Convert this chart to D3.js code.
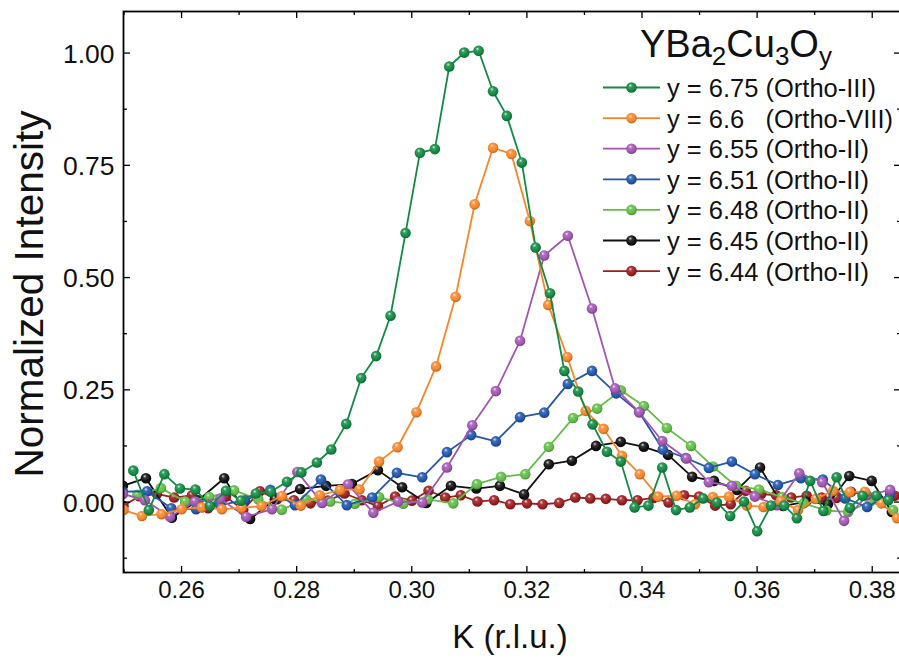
<!DOCTYPE html>
<html>
<head>
<meta charset="utf-8">
<script src="https://cdn.jsdelivr.net/npm/d3@7/dist/d3.min.js"></script>
<style>
  html, body { margin: 0; padding: 0; background: #fff; }
  svg { display: block; font-family: "Liberation Sans", Arial, sans-serif; }
</style>
</head>
<body>
<svg id="chart" width="899" height="658"></svg>
<script>
// K scans through the charge-order peak, normalized intensity, for several oxygen contents

const k675 = [0.2517,0.2544,0.2571,0.2598,0.2625,0.2650,0.2678,0.2704,0.2730,0.2756,0.2784,0.2809,0.2836,0.2861,0.2887,0.2913,0.2939,0.2964,0.2990,0.3015,0.3041,0.3066,0.3092,0.3117,0.3142,0.3166,0.3192,0.3216,0.3241,0.3266,0.3290,0.3315,0.3340,0.3364,0.3388,0.3412,0.3436,0.3460,0.3484,0.3507,0.3531,0.3554,0.3578,0.3601,0.3625,0.3648,0.3670,0.3693,0.3716,0.3739,0.3762,0.3784,0.3808,0.3829];
const i675 = [0.069,-0.019,0.061,0.029,0.027,-0.010,0.024,0.002,0.018,0.022,0.044,0.065,0.087,0.116,0.173,0.275,0.324,0.414,0.598,0.777,0.785,0.969,1.000,1.004,0.914,0.859,0.755,0.566,0.464,0.291,0.245,0.172,0.111,0.089,-0.013,-0.009,0.076,-0.019,-0.013,0.007,-0.002,-0.032,0.000,-0.066,-0.009,-0.009,-0.037,0.046,-0.021,0.054,-0.014,0.013,0.013,0.003];

const k660 = [0.2500,0.2532,0.2566,0.2601,0.2636,0.2671,0.2705,0.2740,0.2775,0.2808,0.2841,0.2876,0.2910,0.2944,0.2976,0.3009,0.3043,0.3077,0.3110,0.3142,0.3174,0.3206,0.3238,0.3271,0.3303,0.3334,0.3366,0.3397,0.3429,0.3461,0.3493,0.3524,0.3552,0.3583,0.3612,0.3642,0.3672,0.3703,0.3733,0.3762,0.3788,0.3817,0.3844];
const i660 = [-0.019,-0.032,-0.028,-0.017,-0.013,-0.017,-0.014,-0.010,0.012,-0.009,0.014,0.026,0.027,0.089,0.121,0.199,0.301,0.456,0.662,0.788,0.774,0.625,0.438,0.322,0.202,0.162,0.102,0.061,0.011,0.013,-0.006,0.010,0.011,-0.009,-0.012,0.001,-0.019,0.006,0.024,0.021,0.022,-0.004,-0.037];

const k655 = [0.2499,0.2537,0.2581,0.2624,0.2668,0.2713,0.2758,0.2802,0.2845,0.2890,0.2934,0.2977,0.3019,0.3062,0.3106,0.3147,0.3189,0.3231,0.3272,0.3314,0.3354,0.3396,0.3436,0.3478,0.3517,0.3557,0.3597,0.3635,0.3674,0.3714,0.3752,0.3792,0.3832];
const i655 = [0.017,0.003,-0.034,0.000,0.006,-0.034,-0.017,0.066,-0.003,0.038,-0.025,0.000,-0.002,0.076,0.170,0.246,0.358,0.548,0.592,0.430,0.252,0.199,0.135,0.096,0.043,0.035,0.011,-0.008,0.063,0.043,-0.043,0.014,0.026];

const k651 = [0.2499,0.2541,0.2583,0.2626,0.2668,0.2711,0.2755,0.2798,0.2843,0.2888,0.2932,0.2975,0.3019,0.3062,0.3104,0.3147,0.3189,0.3231,0.3272,0.3314,0.3356,0.3396,0.3437,0.3477,0.3517,0.3557,0.3597,0.3637,0.3677,0.3715,0.3754,0.3792,0.3832];
const i651 = [0.022,0.023,-0.015,-0.017,-0.008,0.003,0.026,-0.008,0.049,-0.008,0.009,0.064,0.054,0.110,0.148,0.134,0.188,0.198,0.262,0.291,0.241,0.199,0.116,0.097,0.075,0.089,0.061,0.037,0.052,0.049,0.007,-0.012,0.017];

const k648 = [0.2524,0.2565,0.2607,0.2649,0.2692,0.2734,0.2775,0.2817,0.2859,0.2902,0.2944,0.2986,0.3029,0.3073,0.3114,0.3156,0.3198,0.3239,0.3281,0.3323,0.3364,0.3404,0.3444,0.3486,0.3524,0.3564,0.3604,0.3644,0.3682,0.3721,0.3759,0.3797,0.3837];
const i648 = [0.015,0.030,0.000,0.010,0.025,0.005,-0.018,0.005,0.000,-0.005,0.010,-0.005,0.005,-0.004,0.039,0.055,0.061,0.122,0.186,0.207,0.248,0.213,0.164,0.124,0.078,0.035,0.027,0.010,-0.004,-0.020,-0.023,0.000,-0.019];

const k645 = [0.2499,0.2539,0.2584,0.2630,0.2675,0.2720,0.2763,0.2807,0.2852,0.2897,0.2942,0.2984,0.3026,0.3069,0.3113,0.3154,0.3196,0.3239,0.3279,0.3321,0.3364,0.3404,0.3446,0.3488,0.3526,0.3566,0.3606,0.3646,0.3686,0.3724,0.3761,0.3800,0.3835];
const i645 = [0.035,0.052,-0.036,0.003,0.052,-0.039,0.005,0.028,0.035,0.039,0.070,0.032,-0.003,0.035,0.029,0.035,0.016,0.083,0.091,0.124,0.133,0.122,0.104,0.055,0.046,0.026,0.076,-0.010,0.000,-0.006,0.057,0.046,-0.023];

const k644 = [0.2500,0.2527,0.2558,0.2588,0.2619,0.2647,0.2678,0.2708,0.2737,0.2767,0.2796,0.2825,0.2855,0.2884,0.2914,0.2942,0.2972,0.3001,0.3030,0.3059,0.3086,0.3115,0.3144,0.3172,0.3201,0.3228,0.3257,0.3285,0.3311,0.3338,0.3366,0.3393,0.3421,0.3447,0.3474,0.3500,0.3528,0.3555,0.3581,0.3608,0.3634,0.3660,0.3687,0.3713,0.3739,0.3764,0.3790,0.3816,0.3840];
const i644 = [-0.010,0.012,0.017,0.009,0.014,-0.015,0.011,-0.019,0.023,0.005,0.003,-0.004,0.002,0.018,0.003,-0.010,0.011,0.002,0.024,0.009,0.014,0.000,0.003,-0.006,-0.004,-0.006,-0.003,0.009,0.007,0.006,0.003,0.003,0.008,-0.002,0.014,0.011,-0.009,-0.006,0.024,0.017,0.014,0.009,0.013,0.009,0.008,0.022,0.014,0.000,0.013];

const seriesLabels = [
  "y = 6.75 (Ortho-III)",
  "y = 6.6   (Ortho-VIII)",
  "y = 6.55 (Ortho-II)",
  "y = 6.51 (Ortho-II)",
  "y = 6.48 (Ortho-II)",
  "y = 6.45 (Ortho-II)",
  "y = 6.44 (Ortho-II)"
];
const seriesColors = ["#138a43", "#f7862a", "#a256b3", "#2257ad", "#62bd48", "#111111", "#9c1e20"];
const seriesK = [k675, k660, k655, k651, k648, k645, k644];
const seriesI = [i675, i660, i655, i651, i648, i645, i644];

const xTicks = [0.26, 0.28, 0.30, 0.32, 0.34, 0.36, 0.38];
const xMinorTicks = [0.25, 0.27, 0.29, 0.31, 0.33, 0.35, 0.37];
const yTicks = [0.00, 0.25, 0.50, 0.75, 1.00];
const yMinorTicks = [-0.125, 0.125, 0.375, 0.625, 0.875];

const series = seriesLabels.map((label, s) => ({
  label, color: seriesColors[s],
  points: seriesK[s].map((k, j) => ({ k, v: seriesI[s][j] }))
}));

const svg = d3.select("#chart");
const plot = { left: 123.5, right: 900.5, top: 11.5, bottom: 572.5 };

const x = d3.scaleLinear().domain([0.25, 0.385]).range([plot.left, plot.right]);
const y = d3.scaleLinear().domain([-0.158, 1.0915]).range([plot.bottom, plot.top]);

// shaded ball markers
const defs = svg.append("defs");
series.forEach((s, idx) => {
  const c = d3.color(s.color);
  const g = defs.append("radialGradient")
    .attr("id", "ball" + idx).attr("cx", "0.45").attr("cy", "0.42").attr("r", "0.6")
    .attr("fx", "0.38").attr("fy", "0.3");
  g.append("stop").attr("offset", "0").attr("stop-color", d3.interpolateRgb(s.color, "#fff")(0.85));
  g.append("stop").attr("offset", "0.28").attr("stop-color", d3.interpolateRgb(s.color, "#fff")(0.15));
  g.append("stop").attr("offset", "0.7").attr("stop-color", s.color);
  g.append("stop").attr("offset", "1").attr("stop-color", c.darker(0.9).formatHex());
});

svg.append("clipPath").attr("id", "plotclip").append("rect")
  .attr("x", plot.left).attr("y", plot.top)
  .attr("width", plot.right - plot.left).attr("height", plot.bottom - plot.top);

const line = d3.line().x(d => x(d.k)).y(d => y(d.v));
const R = 5.3;

const dataLayer = svg.append("g").attr("clip-path", "url(#plotclip)");
// draw the 6.44 trace first so the strongest peaks sit on top
series.slice().reverse().forEach(s => {
  const idx = series.indexOf(s);
  const g = dataLayer.append("g");
  g.append("path").datum(s.points)
    .attr("d", line).attr("fill", "none")
    .attr("stroke", s.color).attr("stroke-width", 1.8).attr("stroke-linejoin", "round");
  g.selectAll("circle").data(s.points).join("circle")
    .attr("cx", d => x(d.k)).attr("cy", d => y(d.v)).attr("r", R)
    .attr("fill", `url(#ball${idx})`);
});

// axes with inward ticks, mirrored on top and right
const axisColor = "#000";
const tickFont = 24;

const bottomAxis = svg.append("g").attr("transform", `translate(0,${plot.bottom})`)
  .call(d3.axisBottom(x).tickValues(xTicks).tickSizeInner(-6.5).tickSizeOuter(0).tickFormat(d3.format(".2f")));
bottomAxis.selectAll(".tick text").attr("y", 25).attr("dy", 0).attr("font-size", tickFont)
  .attr("font-family", "'Liberation Sans', Arial, sans-serif").attr("fill", "#111");
svg.append("g").attr("transform", `translate(0,${plot.bottom})`)
  .call(d3.axisBottom(x).tickValues(xMinorTicks).tickSizeInner(-3.5).tickSizeOuter(0).tickFormat(""));

svg.append("g").attr("transform", `translate(0,${plot.top})`)
  .call(d3.axisTop(x).tickValues(xTicks).tickSizeInner(-6.5).tickSizeOuter(0).tickFormat(""));
svg.append("g").attr("transform", `translate(0,${plot.top})`)
  .call(d3.axisTop(x).tickValues(xMinorTicks).tickSizeInner(-3.5).tickSizeOuter(0).tickFormat(""));

const leftAxis = svg.append("g").attr("transform", `translate(${plot.left},0)`)
  .call(d3.axisLeft(y).tickValues(yTicks).tickSizeInner(-6.5).tickSizeOuter(0).tickFormat(d3.format(".2f")));
leftAxis.selectAll(".tick text").attr("x", -9).attr("dy", "0.36em").attr("font-size", 26.5)
  .attr("font-family", "'Liberation Sans', Arial, sans-serif").attr("fill", "#111");
svg.append("g").attr("transform", `translate(${plot.left},0)`)
  .call(d3.axisLeft(y).tickValues(yMinorTicks).tickSizeInner(-3.5).tickSizeOuter(0).tickFormat(""));

svg.append("g").attr("transform", `translate(${plot.right},0)`)
  .call(d3.axisRight(y).tickValues(yTicks).tickSizeInner(-6.5).tickSizeOuter(0).tickFormat(""));
svg.append("g").attr("transform", `translate(${plot.right},0)`)
  .call(d3.axisRight(y).tickValues(yMinorTicks).tickSizeInner(-3.5).tickSizeOuter(0).tickFormat(""));

svg.selectAll(".domain").remove();
svg.selectAll(".tick line").attr("stroke", axisColor).attr("stroke-width", 1.3);

// frame
svg.append("rect")
  .attr("x", plot.left).attr("y", plot.top)
  .attr("width", plot.right - plot.left).attr("height", plot.bottom - plot.top)
  .attr("fill", "none").attr("stroke", axisColor).attr("stroke-width", 1.8);

// axis titles
svg.append("text")
  .attr("x", 510).attr("y", 648)
  .attr("text-anchor", "middle").attr("font-size", 33).attr("fill", "#111")
  .text("K (r.l.u.)");

svg.append("text")
  .attr("transform", "translate(43,294) rotate(-90)")
  .attr("text-anchor", "middle").attr("font-size", 40.5).attr("fill", "#111")
  .text("Normalized Intensity");

// legend
const legend = svg.append("g");
const title = legend.append("text").attr("x", 640).attr("y", 57)
  .attr("font-size", 38).attr("fill", "#111");
[["YBa", false], ["2", true], ["Cu", false], ["3", true], ["O", false], ["y", true]].forEach(([t, sub]) => {
  if (sub) {
    title.append("tspan").attr("font-size", 26).attr("dy", 8).text(t);
  } else {
    const prevSub = title.selectAll("tspan").size() > 0;
    title.append("tspan").attr("dy", prevSub ? -8 : 0).text(t);
  }
});

series.forEach((s, idx) => {
  const ly = 87.5 + idx * 30.6;
  const row = legend.append("g");
  row.append("line").attr("x1", 603).attr("x2", 660).attr("y1", ly).attr("y2", ly)
    .attr("stroke", s.color).attr("stroke-width", 1.8);
  row.append("circle").attr("cx", 631.5).attr("cy", ly).attr("r", R)
    .attr("fill", `url(#ball${idx})`);
  row.append("text").attr("x", 667).attr("y", ly + 9.5)
    .attr("font-size", 25.5).attr("fill", "#111").style("white-space", "pre")
    .text(s.label);
});
</script>
</body>
</html>
